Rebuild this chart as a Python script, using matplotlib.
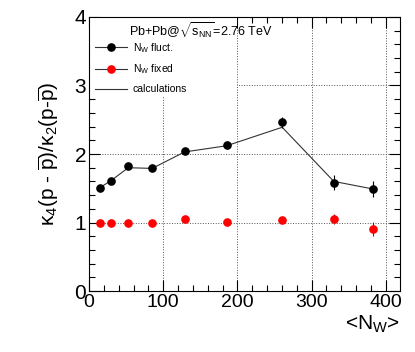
import numpy as np
import matplotlib.pyplot as plt
from matplotlib.patches import Rectangle
from matplotlib.lines import Line2D
from matplotlib.ticker import MultipleLocator

plt.rcParams['font.family'] = ['Liberation Sans', 'DejaVu Sans']
plt.rcParams['mathtext.fontset'] = 'custom'
plt.rcParams['mathtext.rm'] = 'Liberation Sans'
plt.rcParams['mathtext.it'] = 'Liberation Sans'

# data
nw = [14.7, 29.5, 52.9, 85.2, 128.8, 185.4, 260.4, 330.0, 382.6]
fluct = [1.51, 1.61, 1.82, 1.80, 2.05, 2.13, 2.46, 1.58, 1.49]
fluct_err = [0.02, 0.02, 0.02, 0.02, 0.02, 0.02, 0.085, 0.11, 0.12]
fixed = [0.99, 0.99, 1.00, 0.99, 1.05, 1.005, 1.04, 1.05, 0.91]
fixed_err = [0.01, 0.01, 0.01, 0.01, 0.02, 0.02, 0.02, 0.07, 0.10]
calc = [1.51, 1.61, 1.80, 1.79, 2.03, 2.12, 2.39, 1.60, 1.49]

fig = plt.figure(figsize=(4.15, 3.52), dpi=100)
ax = fig.add_axes([0.2145, 0.173, 0.749, 0.779])

# white box behind legend hides the grid there
ax.add_patch(Rectangle((0, 2.85), 200, 1.15, facecolor='white', edgecolor='none', zorder=1.5))

ax.plot(nw, calc, '-', color='#333333', lw=0.8, zorder=2)
ax.errorbar(nw, fluct, yerr=fluct_err, fmt='o', color='black', ms=5.2,
            ecolor='black', elinewidth=0.8, capsize=0, zorder=3)
ax.errorbar(nw, fixed, yerr=fixed_err, fmt='o', color='red', ms=5.2,
            ecolor='#333333', elinewidth=0.8, capsize=0, zorder=3)

ax.set_xlim(0, 419)
ax.set_ylim(0, 4)
ax.xaxis.set_major_locator(MultipleLocator(100))
ax.xaxis.set_minor_locator(MultipleLocator(20))
ax.yaxis.set_major_locator(MultipleLocator(1))
ax.yaxis.set_minor_locator(MultipleLocator(0.2))
ax.tick_params(which='both', direction='in', top=True, right=True, width=0.8)
ax.tick_params(which='major', length=8, labelsize=14, pad=2)
ax.tick_params(which='minor', length=4)
ax.tick_params(axis='y', labelsize=15)
ax.grid(True, which='major', ls=':', color='#555555', lw=0.7, zorder=1)
ax.set_axisbelow(True)

ax.set_ylabel(r'$\kappa_4$(p - $\overline{\rm p}$)/$\kappa_2$(p-$\overline{\rm p}$)', fontsize=15, labelpad=10)
ax.set_xlabel(r'<N$_{\rm W}$>', fontsize=15, loc='right', labelpad=2)

ax.text(0.13, 0.985, r'Pb+Pb@$\sqrt{s_{\rm NN}}$=2.76 TeV', transform=ax.transAxes,
        fontsize=9, va='top', ha='left')
handles = [Line2D([], [], color='#333333', marker='o', mfc='black', mec='black', ms=5.2, lw=0.8),
           Line2D([], [], color='#333333', marker='o', mfc='red', mec='red', ms=5.2, lw=0.8),
           Line2D([], [], color='#333333', lw=0.8)]
ax.legend(handles, [r'N$_{\rm W}$ fluct.', r'N$_{\rm W}$ fixed', 'calculations'],
          loc='upper left', bbox_to_anchor=(0.0, 0.935), frameon=False, fontsize=7.5,
          handlelength=3.0, handletextpad=0.6, labelspacing=0.75, borderaxespad=0.2)

fig.savefig('out.png', dpi=100)
